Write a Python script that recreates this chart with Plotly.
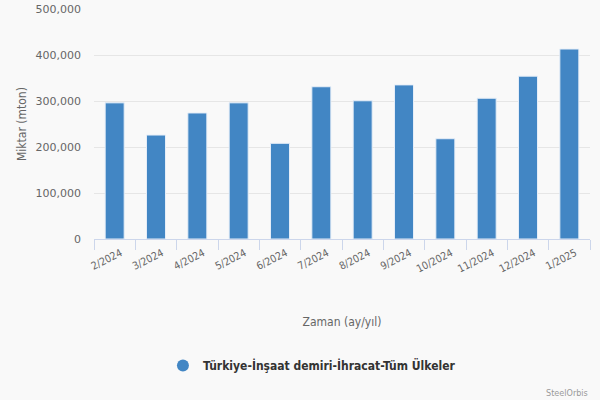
import plotly.graph_objects as go

months = ["2/2024", "3/2024", "4/2024", "5/2024", "6/2024", "7/2024",
          "8/2024", "9/2024", "10/2024", "11/2024", "12/2024", "1/2025"]
values = [296000, 226000, 274000, 296000, 208000, 331000,
          300500, 335000, 218000, 306000, 354000, 413000]
series_name = "Türkiye-İnşaat demiri-İhracat-Tüm Ülkeler"
y_ticks = [0, 100000, 200000, 300000, 400000, 500000]

BAR = "#4286c4"
FONT = "DejaVu Sans"
FONT_C = "DejaVu Sans Condensed"

fig = go.Figure()
fig.add_trace(go.Bar(
    x=months, y=values, name=series_name, showlegend=False,
    marker=dict(color=BAR, line=dict(color="#e6eef8", width=1)),
    width=0.46,
))
fig.add_trace(go.Scatter(
    x=[None], y=[None], mode="markers", name=series_name,
    marker=dict(symbol="circle", size=13, color=BAR),
))

fig.update_layout(
    width=600, height=400,
    margin=dict(l=94, r=10, t=9, b=161, autoexpand=False),
    paper_bgcolor="#f9f9f9", plot_bgcolor="#f9f9f9",
    font=dict(family=FONT, size=11, color="#666666"),
    showlegend=True,
    legend=dict(
        orientation="h", x=0.139, xanchor="left", y=-0.55, yanchor="middle",
        font=dict(family=FONT_C, size=12, color="#333333", weight="bold"),
        bgcolor="rgba(0,0,0,0)", itemsizing="constant",
    ),
    xaxis=dict(
        type="category", tickson="boundaries", ticks="outside", ticklen=10,
        tickcolor="#ccd6eb", showline=True, linecolor="#ccd6eb", linewidth=1,
        showgrid=False, tickangle=-27, ticklabelshift=6, ticklabelstandoff=3,
        tickfont=dict(family=FONT_C, size=10.5, color="#666666"),
        automargin=False,
        title=dict(text="Zaman (ay/yıl)", font=dict(family=FONT_C, size=12, color="#666666"), standoff=43),
    ),
    yaxis=dict(
        range=[0, 500000], tickvals=y_ticks, tickformat=",d",
        showgrid=True, gridcolor="#e6e6e6", gridwidth=1, zeroline=False,
        tickfont=dict(size=11, color="#666666"), ticks="", ticklabelstandoff=12,
        automargin=False,
    ),
    annotations=[
        dict(
            text="Miktar (mton)", xref="paper", yref="paper",
            x=(22 - 94) / 496, y=0.5, xanchor="center", yanchor="middle",
            textangle=-90, showarrow=False,
            font=dict(family=FONT_C, size=12, color="#666666"),
        ),
        dict(
            text="SteelOrbis", xref="paper", yref="paper", x=1.0, y=-0.67,
            xanchor="right", yanchor="middle", showarrow=False,
            font=dict(family=FONT_C, size=9, color="#999999"),
        ),
    ],
)

fig.write_html("out.html", config={"displayModeBar": False},
               post_script="document.body.style.margin='0';")
